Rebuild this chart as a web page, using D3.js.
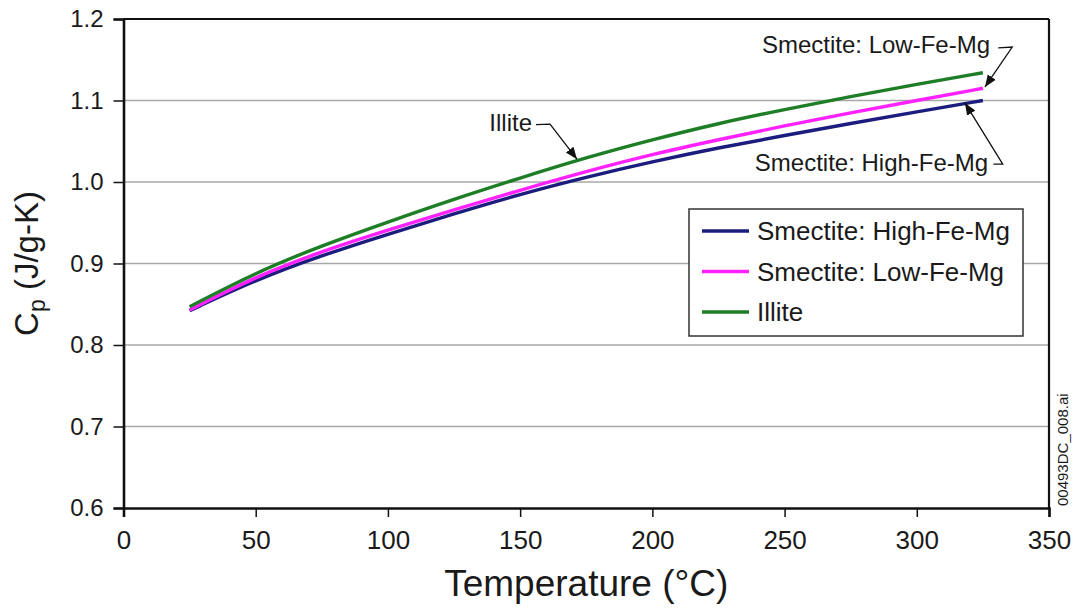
<!DOCTYPE html>
<html>
<head>
<meta charset="utf-8">
<script src="https://cdn.jsdelivr.net/npm/d3@7"></script>
<style>
  body { margin: 0; background: #fff; }
  text { font-family: "Liberation Sans", Arial, sans-serif; fill: #1a1a1a; }
</style>
</head>
<body>
<div id="chart"></div>
<script>
// temperatures (deg C)
var temps = [25, 50, 75, 100, 125, 150, 175, 200, 225, 250, 275, 300, 325];
// heat capacity values (J/g-K)
var highFeMg = [0.842, 0.880, 0.910, 0.936, 0.961, 0.985, 1.006, 1.025, 1.042, 1.057, 1.072, 1.086, 1.100];
var lowFeMg  = [0.843, 0.884, 0.915, 0.941, 0.966, 0.990, 1.013, 1.034, 1.052, 1.069, 1.085, 1.100, 1.115];
var illite   = [0.847, 0.889, 0.922, 0.951, 0.979, 1.005, 1.030, 1.052, 1.072, 1.089, 1.105, 1.120, 1.134];

var seriesNames = ["Smectite: High-Fe-Mg", "Smectite: Low-Fe-Mg", "Illite"];
var seriesColors = ["#1c1c7e", "#ff22ff", "#1e7e26"];

var xTicks = [0, 50, 100, 150, 200, 250, 300, 350];
var yTicks = [0.6, 0.7, 0.8, 0.9, 1.0, 1.1, 1.2];

// callouts: text end point, knee of leader and arrow tip (data coords)
var callouts = [
  {label: "Smectite: Low-Fe-Mg", text: [327.7, 1.158], start: [330.8, 1.1645], knee: [336.1, 1.1656], tip: [325.8, 1.1166]},
  {label: "Smectite: High-Fe-Mg", text: [327.0, 1.014], start: [329.0, 1.022], knee: [332.5, 1.022], tip: [318.2, 1.097]},
  {label: "Illite", text: [154.5, 1.063], start: [156.0, 1.0705], knee: [161.3, 1.071], tip: [171.5, 1.028]}
];

var W = 1076, H = 609;
var margin = {top: 19, right: 27, bottom: 101, left: 123.5},
    width = W - margin.left - margin.right,
    height = H - margin.top - margin.bottom;

var svgRoot = d3.select("#chart").append("svg")
    .attr("width", W)
    .attr("height", H);

svgRoot.append("defs").append("marker")
    .attr("id", "arrow")
    .attr("viewBox", "0 0 10 10")
    .attr("refX", 10).attr("refY", 5)
    .attr("markerWidth", 12).attr("markerHeight", 12)
    .attr("markerUnits", "userSpaceOnUse")
    .attr("orient", "auto")
  .append("path")
    .attr("d", "M0,1 L10,5 L0,9 Z")
    .attr("fill", "#111");

var svg = svgRoot.append("g")
    .attr("transform", "translate(" + margin.left + "," + margin.top + ")");

var x = d3.scaleLinear().domain([0, 350]).range([0, width]);
var y = d3.scaleLinear().domain([0.6, 1.2]).range([height, 0]);

// gridlines
svg.selectAll(".grid")
  .data(yTicks.slice(1, -1))
  .enter().append("line")
    .attr("x1", 0).attr("x2", width)
    .attr("y1", d => y(d)).attr("y2", d => y(d))
    .attr("stroke", "#a8a8a8")
    .attr("stroke-width", 1.5);

// frame (top and right)
svg.append("line").attr("x1", 0).attr("x2", width).attr("y1", 0).attr("y2", 0)
    .attr("stroke", "#111").attr("stroke-width", 2.2);
svg.append("line").attr("x1", width).attr("x2", width).attr("y1", 0).attr("y2", height)
    .attr("stroke", "#111").attr("stroke-width", 2.2);

// axes
var xAxis = svg.append("g")
    .attr("transform", "translate(0," + height + ")")
    .call(d3.axisBottom(x).tickValues(xTicks).tickSize(9).tickPadding(14).tickFormat(d3.format("d")));
var yAxis = svg.append("g")
    .call(d3.axisLeft(y).tickValues(yTicks).tickSize(10).tickPadding(10).tickFormat(d3.format(".1f")));

[xAxis, yAxis].forEach(function(a) {
  a.select(".domain").attr("stroke", "#111").attr("stroke-width", 2.6);
  a.selectAll(".tick line").attr("stroke", "#111").attr("stroke-width", 1.5);
  a.selectAll("text").attr("fill", "#1a1a1a").style("font-family", "Liberation Sans, Arial, sans-serif");
});
xAxis.selectAll("text").style("font-size", "26px");
yAxis.selectAll("text").style("font-size", "24px");

// curves
var allSeries = [highFeMg, lowFeMg, illite];
var line = d3.line()
    .x(d => x(d[0]))
    .y(d => y(d[1]))
    .curve(d3.curveBasis);

svg.selectAll(".curve")
  .data(allSeries)
  .enter().append("path")
    .attr("d", s => line(temps.map((t, i) => [t, s[i]])))
    .attr("fill", "none")
    .attr("stroke", (s, i) => seriesColors[i])
    .attr("stroke-width", 3.4);

// callouts
callouts.forEach(function(c) {
  svg.append("text")
      .attr("x", x(c.text[0]))
      .attr("y", y(c.text[1]))
      .attr("text-anchor", "end")
      .style("font-size", "24px")
      .text(c.label);
  svg.append("path")
      .attr("d", "M" + x(c.start[0]) + "," + y(c.start[1]) +
                 "L" + x(c.knee[0]) + "," + y(c.knee[1]) +
                 "L" + x(c.tip[0]) + "," + y(c.tip[1]))
      .attr("fill", "none")
      .attr("stroke", "#111")
      .attr("stroke-width", 1.3)
      .attr("marker-end", "url(#arrow)");
});

// legend
var legend = svgRoot.append("g").attr("transform", "translate(689,209)");
legend.append("rect")
    .attr("width", 334).attr("height", 127)
    .attr("fill", "#fff")
    .attr("stroke", "#333")
    .attr("stroke-width", 1.5);
seriesNames.forEach(function(name, i) {
  var ly = 22 + i * 40.5;
  legend.append("line")
      .attr("x1", 13).attr("x2", 60)
      .attr("y1", ly).attr("y2", ly)
      .attr("stroke", seriesColors[i])
      .attr("stroke-width", 3.4);
  legend.append("text")
      .attr("x", 68).attr("y", ly)
      .attr("dy", "0.36em")
      .style("font-size", "26px")
      .text(name);
});

// axis titles
svgRoot.append("text")
    .attr("x", margin.left + width / 2)
    .attr("y", 596)
    .attr("text-anchor", "middle")
    .style("font-size", "37px")
    .text("Temperature (°C)");

var yt = svgRoot.append("text")
    .attr("transform", "translate(38," + (margin.top + height / 2) + ") rotate(-90)")
    .attr("text-anchor", "middle")
    .style("font-size", "33px");
yt.append("tspan").text("C");
yt.append("tspan").attr("dy", "0.3em").style("font-size", "23px").text("p");
yt.append("tspan").attr("dy", "-0.21em").text(" (J/g-K)");

// file tag on the right
svgRoot.append("text")
    .attr("transform", "translate(1068,506) rotate(-90)")
    .attr("text-anchor", "start")
    .style("font-size", "15px")
    .text("00493DC_008.ai");
</script>
</body>
</html>
